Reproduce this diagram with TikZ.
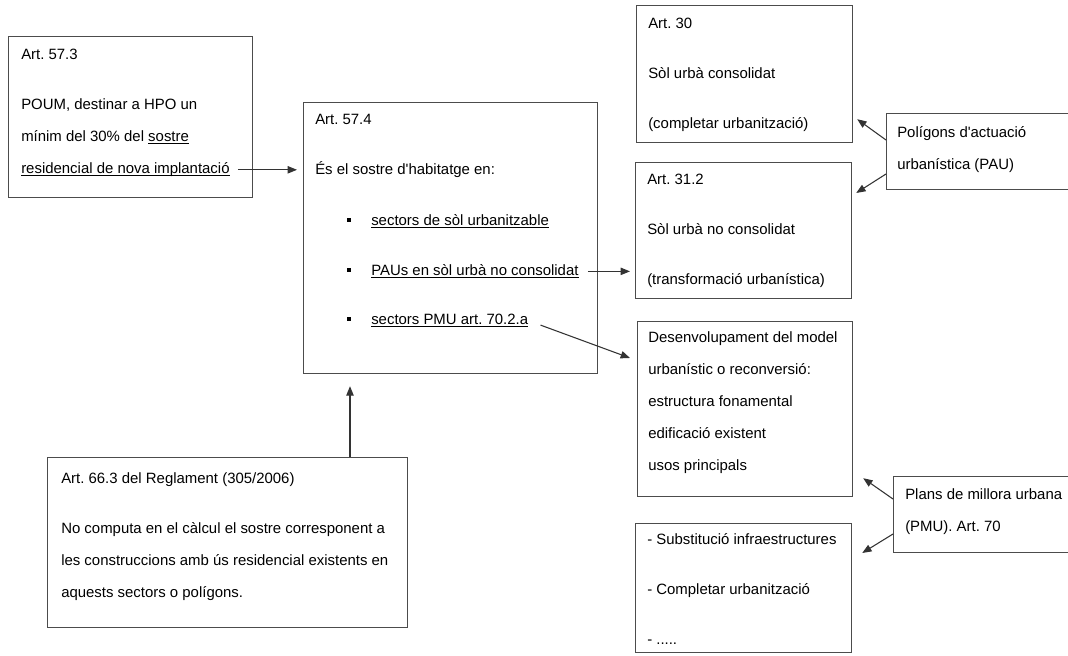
\documentclass[tikz,border=0pt]{standalone}
\usepackage{amsmath}
\usepackage{fontspec}
\setmainfont{Liberation Sans}
\usetikzlibrary{arrows.meta,positioning}
\frenchspacing

\newcommand\ul[1]{\underline{\smash[b]{#1}}}
\newcommand\itm{\rule[2.7pt]{3pt}{3pt}\hspace{15pt}}

\begin{document}
\begin{tikzpicture}[x=0.75pt,y=-0.75pt,
    box/.style={draw=black!70, line width=0.9pt, inner sep=0pt, anchor=north west},
    txt/.style={inner sep=0pt, align=left, anchor=north west, font=\fontsize{11.2}{24}\selectfont},
    arr/.style={draw=black!80, line width=0.8pt, -{Triangle[length=7pt,width=5.5pt]}}]

    \useasboundingbox (0,0) rectangle (1068,656);
    \clip (0,0) rectangle (1068,656);

    % boxes
    \node[box, minimum width=183pt, minimum height=120.75pt] (a573) at (8,36) {};
    \node[box, minimum width=220.5pt, minimum height=203.25pt] (a574) at (303,102) {};
    \node[box, minimum width=270pt, minimum height=127.5pt] (a663) at (47,457) {};
    \node[box, minimum width=162pt, minimum height=102.75pt] (a30) at (636,5) {};
    \node[box, minimum width=162pt, minimum height=102pt] (a312) at (635,162) {};
    \node[box, minimum width=161.25pt, minimum height=131.25pt] (dev) at (637,321) {};
    \node[box, minimum width=162pt, minimum height=96.75pt] (lst) at (635,523) {};
    \node[box, minimum width=150pt, minimum height=57pt] (pol) at (886,113) {};
    \node[box, minimum width=150pt, minimum height=57pt] (plans) at (893,476) {};

    % texts
    \node[txt, below right=9.7pt and 9.75pt of a573.north west] (t573)
        {Art. 57.3\\[13.5pt]POUM, destinar a HPO un\\m\'inim del 30\% del \ul{sostre}\\\ul{residencial de nova implantaci\'o}};
    \node[txt, below right=8.9pt and 9pt of a574.north west] (t574)
        {Art. 57.4\\[13.5pt]\'Es el sostre d\textquotesingle habitatge en:};
    \node[txt, anchor=base west] (b1) at ([shift={(44,123.4)}]a574.north west) {\itm\ul{sectors de s\`ol urbanitzable}};
    \node[txt, anchor=base west] (b2) at ([shift={(44,173.4)}]a574.north west) {\itm\ul{PAUs en s\`ol urb\`a no consolidat}};
    \node[txt, anchor=base west] (b3) at ([shift={(44,222.4)}]a574.north west) {\itm\ul{sectors PMU art. 70.2.a}};
    \node[txt, below right=11.8pt and 10.5pt of a663.north west] (t663)
        {Art. 66.3 del Reglament (305/2006)\\[13.5pt]No computa en el c\`alcul el sostre corresponent a\\les construccions amb \'us residencial existents en\\aquests sectors o pol\'igons.};
    \node[txt, below right=9.4pt and 9pt of a30.north west] (t30)
        {Art. 30\\[13.5pt]S\`ol urb\`a consolidat\\[13.5pt](completar urbanitzaci\'o)};
    \node[txt, below right=8.6pt and 9pt of a312.north west] (t312)
        {Art. 31.2\\[13.5pt]S\`ol urb\`a no consolidat\\[13.5pt](transformaci\'o urban\'istica)};
    \node[txt, below right=8pt and 8.25pt of dev.north west] (tdev)
        {Desenvolupament del model\\urban\'istic o reconversi\'o:\\estructura fonamental\\edificaci\'o existent\\usos principals};
    \node[txt, below right=8pt and 9pt of lst.north west] (tlst)
        {- Substituci\'o infraestructures\\[13.5pt]- Completar urbanitzaci\'o\\[13.5pt]- .....};
    \node[txt, below right=10.3pt and 8.25pt of pol.north west] (tpol)
        {Pol\'igons d\textquotesingle actuaci\'o\\urban\'istica (PAU)};
    \node[txt, below right=9.5pt and 9pt of plans.north west] (tplans)
        {Plans de millora urbana\\(PMU). Art. 70};

    % connectors
    \coordinate (s1) at ([shift={(8,-7)}]t573.south east);
    \draw[arr, shorten >=4.5pt] (s1) -- (s1 -| a574.west);
    \coordinate (up) at ([shift={(303,0)}]a663.north west);
    \draw[arr, shorten >=9pt] (up) -- (up |- a574.south);
    \draw[arr, shorten <=6.75pt, shorten >=3.75pt] (b2.east) -- (b2.east -| a312.west);
    \coordinate (d1) at ([shift={(-7,37)}]dev.north west);
    \draw[arr, shorten <=9.75pt] (b3.east) -- (d1);
    \draw[arr] ([shift={(0,27)}]pol.north west) -- ([shift={(4,-24)}]a30.south east);
    \draw[arr] ([shift={(0,61)}]pol.north west) -- ([shift={(4,31)}]a312.north east);
    \draw[arr] ([shift={(0,23)}]plans.north west) -- ([shift={(10,-19)}]dev.south east);
    \draw[arr] ([shift={(0,58)}]plans.north west) -- ([shift={(10,30)}]lst.north east);
\end{tikzpicture}
\end{document}
